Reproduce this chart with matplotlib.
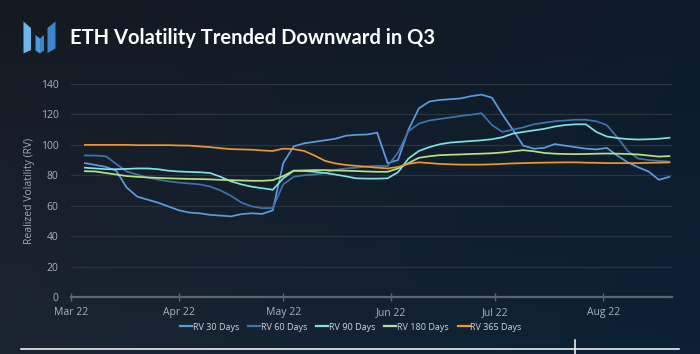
import numpy as np
import pandas as pd
import matplotlib
matplotlib.use('Agg')
import matplotlib.pyplot as plt
import matplotlib.dates as mdates
from matplotlib.patches import Polygon
from matplotlib.lines import Line2D

# data (every 3 days from Mar 5 2022)
dates = pd.date_range('2022-03-05', periods=57, freq='3D')

rv30 = [88, 86.8, 85.5, 83, 72, 66, 64, 62, 59.5, 57,
        55.5, 55, 54, 53.5, 53, 54.5, 55, 54.6, 57, 88,
        99, 101, 102, 103, 104, 106, 106.6, 106.8, 108, 88,
        90, 110, 124, 128.5, 129.5, 130, 130.5, 132, 133, 131,
        120, 110, 99.5, 97.5, 98, 100.5, 99.5, 98.5, 97.5, 97,
        98, 93, 88.5, 85.3, 82.5, 77, 79]
rv60 = [93, 93, 92.5, 87.5, 82.5, 80.5, 78.5, 77.2, 76, 75.2,
        74.6, 74, 72.6, 70, 66.5, 62, 59.5, 58.4, 58.5, 74,
        79, 80, 80.5, 81.5, 83.5, 84.5, 85, 85.8, 86.2, 86,
        95, 109, 114, 116, 117, 118, 119, 119.8, 120.8, 113,
        108.5, 110, 111.5, 113.5, 114.5, 115.5, 116, 116.5, 116.5, 115.5,
        113, 105, 96, 91, 90, 89.5, 89]
rv90 = [85, 84.5, 84, 84, 84.2, 84.5, 84.5, 84, 83, 82.5,
        82.2, 82, 81.5, 79, 76, 74, 72.5, 71.5, 70.5, 78,
        83, 82.8, 82.3, 81.5, 80.5, 79.3, 78, 77.8, 77.8, 78,
        82, 91, 96, 98.5, 100.4, 101.5, 102, 102.5, 103, 103.7,
        105, 107.4, 108.5, 109.5, 110.5, 112, 113, 113.5, 113.5, 108.5,
        105.5, 104.5, 103.8, 103.5, 103.7, 104, 104.7]
rv180 = [82.7, 82.5, 81.5, 80.5, 79.5, 79, 78.6, 78.3, 78, 77.8,
         77.6, 77.5, 77.3, 77, 76.8, 76.6, 76.4, 76.4, 76.8, 79.5,
         83, 83.2, 83.4, 83.4, 83.2, 83, 82.8, 82.5, 82.3, 82.3,
         84.5, 88, 91.5, 92.5, 93.2, 93.5, 93.7, 94, 94.2, 94.5,
         95, 95.8, 96.5, 95.8, 94.7, 94.2, 94, 93.9, 94, 94.2,
         94.3, 94.2, 94, 93.7, 93, 92.3, 92.6]
rv365 = [100, 100, 100, 100, 100, 99.8, 99.8, 99.8, 99.8, 99.6,
         99.5, 99, 98.5, 97.8, 97.2, 97, 96.8, 96.3, 96, 97.5,
         97.2, 96, 93, 89.5, 87.8, 86.8, 86.2, 85.6, 85, 84.5,
         85.5, 87.5, 88.5, 88, 87.5, 87.2, 87, 87, 87, 87.2,
         87.5, 87.8, 88, 88.2, 88.3, 88.4, 88.5, 88.5, 88.3, 88.2,
         88, 88, 88, 88, 88.2, 88.3, 88.5]

labels = ['RV 30 Days', 'RV 60 Days', 'RV 90 Days', 'RV 180 Days', 'RV 365 Days']
colors = ['#5b9be0', '#3f74a8', '#7fe0e6', '#b5e37f', '#f0962a']
y_ticks = [0, 20, 40, 60, 80, 100, 120, 140]

W, H = 700, 354
fig = plt.figure(figsize=(W / 100, H / 100), dpi=100)

# background gradient
bg = fig.add_axes([0, 0, 1, 1], zorder=-10)
tl = np.array([21, 26, 33]) / 255
tr = np.array([14, 27, 42]) / 255
bl = np.array([27, 37, 49]) / 255
br = np.array([12, 33, 53]) / 255
u = np.linspace(0, 1, 200)[None, :, None]
v = np.linspace(0, 1, 100)[:, None, None]
grad = (1 - u) * (1 - v) * tl + u * (1 - v) * tr + (1 - u) * v * bl + u * v * br
bg.imshow(grad, aspect='auto', extent=[0, 1, 0, 1], origin='upper')
bg.set_axis_off()

# pixel -> figure fraction
def px(x, y):
    return (x / W, 1 - y / H)

# logo
logo = [
    ([(23.5, 21.5), (31, 28), (31, 50), (23.5, 53.5)], '#6cb6ec'),
    ([(35.5, 35), (40, 38.5), (40, 53.5), (35.5, 50.5)], '#4f97d8'),
    ([(40, 38.5), (44, 35), (44, 50.5), (40, 53.5)], '#3f82c6'),
    ([(47.5, 28), (55.5, 21.5), (55.5, 48.5), (47.5, 53)], '#3c86d0'),
]
for pts, c in logo:
    fig.patches.append(Polygon([px(*p) for p in pts], closed=True,
                               transform=fig.transFigure, facecolor=c,
                               edgecolor='none'))

fig.text(70 / W, 1 - 38 / H, 'ETH Volatility Trended Downward in Q3',
         fontsize=14.5, fontweight='bold', color='white', va='center',
         ha='left', family=['Lato', 'DejaVu Sans'])

ax = fig.add_axes([71 / W, 1 - 297 / H, (672 - 71) / W, (297 - 84) / H])
ax.set_facecolor('none')

for vals, c, lab in zip([rv30, rv60, rv90, rv180, rv365], colors, labels):
    ax.plot(dates, vals, color=c, lw=1.25, label=lab, solid_joinstyle='miter')

ax.set_ylim(0, 140)
ax.set_xlim(pd.Timestamp('2022-03-01'), pd.Timestamp('2022-08-20 18:00'))
ax.set_yticks(y_ticks)
ax.yaxis.grid(True, color='#2b3540', lw=0.9)
ax.set_axisbelow(True)
for s in ['top', 'right', 'left']:
    ax.spines[s].set_visible(False)
ax.spines['bottom'].set_color('#5c6670')
ax.spines['bottom'].set_linewidth(1.6)

ax.xaxis.set_major_locator(mdates.MonthLocator())
ax.xaxis.set_major_formatter(mdates.DateFormatter('%b 22'))
tick_font = ['Open Sans', 'DejaVu Sans']
ax.tick_params(axis='x', direction='inout', length=6, width=1, color='#5c6670',
               labelcolor='#aab2ba', labelsize=7.5, pad=4)
ax.tick_params(axis='y', length=0, labelcolor='#aab2ba', labelsize=7.5, pad=9)
for t in ax.get_xticklabels() + ax.get_yticklabels():
    t.set_family(tick_font)

ax.set_ylabel('Realized Volatility (RV)', color='#a0a8b0', fontsize=7.5,
              family=tick_font, labelpad=4)

handles = [Line2D([], [], color=c, lw=1.6) for c in colors]
leg = fig.legend(handles, labels, loc='center', bbox_to_anchor=px(351, 327),
                 ncol=5, frameon=False, handlelength=1.3, handletextpad=0.1,
                 columnspacing=1.0, prop={'family': tick_font, 'size': 6.5})
for t in leg.get_texts():
    t.set_color('#d0d6dc')

# bottom bar
fig.add_artist(Line2D([21 / W, 679 / W], [1 - 349 / H] * 2, color='white',
                      lw=1.1, transform=fig.transFigure))
fig.add_artist(Line2D([575 / W] * 2, [1 - 340 / H, 1 - 354 / H], color='white',
                      lw=1.1, transform=fig.transFigure))

fig.savefig('out.png', dpi=100)
